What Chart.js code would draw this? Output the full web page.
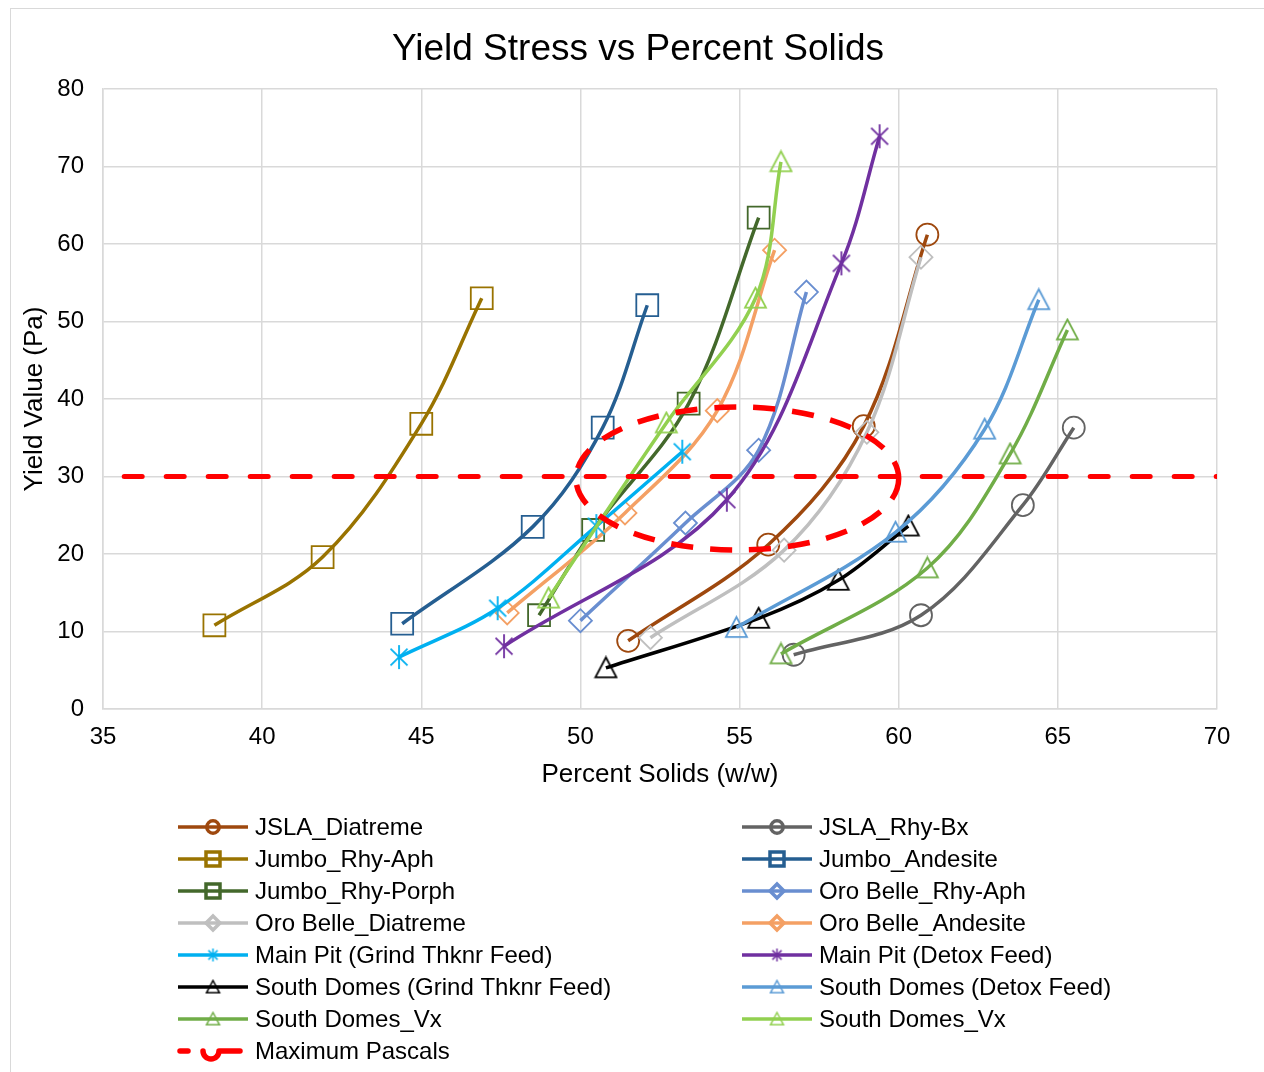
<!DOCTYPE html>
<html>
<head>
<meta charset="utf-8">
<title>Yield Stress vs Percent Solids</title>
<script src="https://cdn.jsdelivr.net/npm/chart.js@4.4.1/dist/chart.umd.min.js"></script>
<style>
  html, body { margin: 0; padding: 0; background: #fff; overflow: hidden; }
  #moldura { position: absolute; left: 10px; top: 8px; width: 1262px; height: 1070px; border: 1px solid #d9d9d9; }
  canvas { display: block; }
</style>
</head>
<body>
<div id="moldura"><canvas id="grafico"></canvas></div>
<script>
// Valores (Percent Solids x Yield Value)
const titulo = 'Yield Stress vs Percent Solids';
const nomes = [
    'JSLA_Diatreme', 'JSLA_Rhy-Bx',
    'Jumbo_Rhy-Aph', 'Jumbo_Andesite',
    'Jumbo_Rhy-Porph', 'Oro Belle_Rhy-Aph',
    'Oro Belle_Diatreme', 'Oro Belle_Andesite',
    'Main Pit (Grind Thknr Feed)', 'Main Pit (Detox Feed)',
    'South Domes (Grind Thknr Feed)', 'South Domes (Detox Feed)',
    'South Domes_Vx', 'South Domes_Vx',
    'Maximum Pascals'
];

const jslaDiatremeX = [51.5, 55.9, 58.9, 60.9];
const jslaDiatremeY = [8.8, 21.2, 36.5, 61.2];
const jslaRhyBxX = [56.7, 60.7, 63.9, 65.5];
const jslaRhyBxY = [7.0, 12.1, 26.3, 36.3];
const jumboRhyAphX = [38.5, 41.9, 45.0, 46.9];
const jumboRhyAphY = [10.8, 19.6, 36.8, 53.0];
const jumboAndesiteX = [44.4, 48.5, 50.7, 52.1];
const jumboAndesiteY = [11.0, 23.5, 36.3, 52.1];
const jumboRhyPorphX = [48.7, 50.4, 53.4, 55.6];
const jumboRhyPorphY = [12.1, 23.1, 39.4, 63.4];
const oroRhyAphX = [50.0, 53.3, 55.6, 57.1];
const oroRhyAphY = [11.4, 24.0, 33.4, 53.8];
const oroDiatremeX = [52.2, 56.4, 59.0, 60.7];
const oroDiatremeY = [9.2, 20.5, 35.7, 58.3];
const oroAndesiteX = [47.7, 51.4, 54.3, 56.1];
const oroAndesiteY = [12.4, 25.3, 38.5, 59.2];
const mainPitGrindX = [44.3, 47.4, 50.5, 53.2];
const mainPitGrindY = [6.7, 13.0, 23.6, 33.2];
const mainPitDetoxX = [47.6, 54.6, 58.2, 59.4];
const mainPitDetoxY = [8.1, 27.0, 57.5, 73.9];
const sdGrindX = [50.8, 55.6, 58.1, 60.3];
const sdGrindY = [5.3, 11.7, 16.6, 23.6];
const sdDetoxX = [54.9, 59.9, 62.7, 64.4];
const sdDetoxY = [10.5, 22.8, 36.1, 52.8];
const sdVxX = [56.3, 60.9, 63.5, 65.3];
const sdVxY = [7.1, 18.2, 32.9, 48.9];
const sdVx2X = [49.0, 52.7, 55.5, 56.3];
const sdVx2Y = [14.3, 36.9, 53.0, 70.6];
const maxPascalsX = [35, 70];
const maxPascalsY = [30, 30];

// elipse tracejada (centro e raios em unidades dos eixos)
const elipseCentro = [54.93, 29.74];
const elipseRaio = [5.07, 9.23];

const xTicks = [35, 40, 45, 50, 55, 60, 65, 70];
const yTicks = [0, 10, 20, 30, 40, 50, 60, 70, 80];

const seriesX = [jslaDiatremeX, jslaRhyBxX, jumboRhyAphX, jumboAndesiteX, jumboRhyPorphX, oroRhyAphX,
    oroDiatremeX, oroAndesiteX, mainPitGrindX, mainPitDetoxX, sdGrindX, sdDetoxX, sdVxX, sdVx2X, maxPascalsX];
const seriesY = [jslaDiatremeY, jslaRhyBxY, jumboRhyAphY, jumboAndesiteY, jumboRhyPorphY, oroRhyAphY,
    oroDiatremeY, oroAndesiteY, mainPitGrindY, mainPitDetoxY, sdGrindY, sdDetoxY, sdVxY, sdVx2Y, maxPascalsY];

// estilos
const cores = ['#9E480E', '#636363', '#997300', '#255E91', '#43682B', '#698ED0', '#BFBFBF', '#F4A064',
    '#00B0F0', '#7030A0', '#000000', '#5B9BD5', '#70AD47', '#92D050', '#FF0000'];
const marcadores = ['circle', 'circle', 'rect', 'rect', 'rect', 'rectRot', 'rectRot', 'rectRot',
    'asterisco', 'asterisco', 'triangulo', 'triangulo', 'triangulo', 'triangulo', 'none'];
const raios = { circle: 11, rect: 15.5, rectRot: 11.5, triangulo: 10.5, asterisco: 12 };
const raiosLegenda = { circle: 6.2, rect: 9.9, rectRot: 7, triangulo: 6.5, asterisco: 6.5 };

function criarAsterisco(cor, meio, espessura) {
    const c = document.createElement('canvas');
    const lado = Math.ceil(meio * 2 + 4);
    c.width = lado; c.height = lado;
    const g = c.getContext('2d');
    const m = lado / 2;
    const d = meio * Math.SQRT1_2;
    g.strokeStyle = cor;
    g.lineWidth = espessura;
    g.beginPath();
    g.moveTo(m, m - meio); g.lineTo(m, m + meio);
    g.moveTo(m - d, m - d); g.lineTo(m + d, m + d);
    g.moveTo(m - d, m + d); g.lineTo(m + d, m - d);
    g.stroke();
    return c;
}

// triângulo centrado pela caixa (como no Excel)
function criarTriangulo(cor, meio, espessura) {
    const c = document.createElement('canvas');
    const lado = Math.ceil(meio * 2 + 4);
    c.width = lado; c.height = lado;
    const g = c.getContext('2d');
    const m = lado / 2;
    g.strokeStyle = cor;
    g.lineWidth = espessura;
    g.lineJoin = 'miter';
    g.beginPath();
    g.moveTo(m, m - meio);
    g.lineTo(m + meio, m + meio * 0.9);
    g.lineTo(m - meio, m + meio * 0.9);
    g.closePath();
    g.stroke();
    return c;
}

const FONTE = '"Liberation Sans", Arial, sans-serif';

const datasets = nomes.map((nome, i) => {
    const tipo = marcadores[i];
    const ds = {
        label: nome,
        data: seriesX[i].map((x, k) => ({ x: x, y: seriesY[i][k] })),
        showLine: true,
        borderColor: cores[i],
        backgroundColor: cores[i],
        borderWidth: 3.5,
        tension: 0.35,
        pointBackgroundColor: 'rgba(0,0,0,0)',
        pointBorderColor: cores[i],
        pointBorderWidth: 1.8,
        order: nomes.length - i
    };
    if (tipo === 'none') {
        ds.pointRadius = 0;
        ds.borderWidth = 5;
        ds.borderDash = [18, 24];
        ds.borderDashOffset = 20.8;
        ds.borderCapStyle = 'round';
        ds.tension = 0;
    } else if (tipo === 'asterisco') {
        ds.pointStyle = criarAsterisco(cores[i], raios.asterisco, 1.8);
        ds.pointRadius = raios.asterisco;
    } else if (tipo === 'triangulo') {
        ds.pointStyle = criarTriangulo(cores[i], raios.triangulo, 1.8);
        ds.pointRadius = raios.triangulo;
    } else {
        ds.pointStyle = tipo;
        ds.pointRadius = raios[tipo];
    }
    return ds;
});

// título centrado na largura da figura
const pluginTitulo = {
    id: 'tituloCentral',
    afterDraw(chart) {
        const ctx = chart.ctx;
        ctx.save();
        ctx.font = '37px ' + FONTE;
        ctx.fillStyle = '#000';
        ctx.textAlign = 'center';
        ctx.textBaseline = 'middle';
        ctx.fillText(titulo, 627, 41);
        ctx.restore();
    }
};

// elipse vermelha tracejada sobre as curvas
const pluginElipse = {
    id: 'elipse',
    afterDatasetsDraw(chart) {
        const ctx = chart.ctx;
        const xs = chart.scales.x, ys = chart.scales.y;
        const cx = xs.getPixelForValue(elipseCentro[0]);
        const cy = ys.getPixelForValue(elipseCentro[1]);
        const rx = xs.getPixelForValue(elipseCentro[0] + elipseRaio[0]) - cx;
        const ry = cy - ys.getPixelForValue(elipseCentro[1] + elipseRaio[1]);
        ctx.save();
        ctx.strokeStyle = '#FF0000';
        ctx.lineWidth = 5.5;
        ctx.setLineDash([22, 17]);
        ctx.beginPath();
        ctx.ellipse(cx, cy, rx, ry, 0, 0, Math.PI * 2);
        ctx.stroke();
        ctx.restore();
    }
};

// legenda em duas colunas, abaixo do eixo X
const pluginLegenda = {
    id: 'legendaColunas',
    afterDraw(chart) {
        const ctx = chart.ctx;
        const topo = chart.chartArea.bottom + 118;
        ctx.save();
        ctx.font = '24px ' + FONTE;
        ctx.textBaseline = 'middle';
        ctx.textAlign = 'left';
        chart.data.datasets.forEach((ds, i) => {
            const col = i % 2, lin = Math.floor(i / 2);
            const x0 = col === 0 ? 167 : 731;
            const y = topo + lin * 32;
            const cor = cores[i];
            const tipo = marcadores[i];
            ctx.strokeStyle = cor;
            ctx.fillStyle = 'rgba(0,0,0,0)';
            ctx.setLineDash([]);
            if (tipo === 'none') {
                ctx.lineWidth = 5.5;
                ctx.lineCap = 'round';
                ctx.lineJoin = 'round';
                ctx.beginPath();
                ctx.moveTo(x0 + 2, y); ctx.lineTo(x0 + 10, y);
                ctx.stroke();
                ctx.beginPath();
                ctx.arc(x0 + 33, y, 8, Math.PI, 0, true);
                ctx.lineTo(x0 + 62, y);
                ctx.stroke();
                ctx.lineCap = 'butt';
            } else {
                ctx.lineWidth = 3.5;
                ctx.beginPath();
                ctx.moveTo(x0, y); ctx.lineTo(x0 + 70, y);
                ctx.stroke();
                if (tipo === 'asterisco' || tipo === 'triangulo') {
                    const img = tipo === 'asterisco'
                        ? criarAsterisco(cor, raiosLegenda.asterisco, 1.5)
                        : criarTriangulo(cor, raiosLegenda.triangulo, 1.5);
                    ctx.drawImage(img, x0 + 35 - img.width / 2, y - img.height / 2);
                } else {
                    Chart.helpers.drawPoint(ctx, {
                        pointStyle: tipo,
                        radius: raiosLegenda[tipo],
                        borderWidth: 1.5,
                        rotation: 0
                    }, x0 + 35, y);
                }
            }
            ctx.fillStyle = '#000';
            ctx.fillText(ds.label, x0 + 77, y + 1);
        });
        ctx.restore();
    }
};

new Chart(document.getElementById('grafico').getContext('2d'), {
    type: 'scatter',
    data: { datasets: datasets },
    options: {
        responsive: true,
        maintainAspectRatio: false,
        animation: false,
        layout: { padding: { left: 0, right: 56, top: 80, bottom: 286 } },
        plugins: {
            legend: { display: false },
            tooltip: { enabled: false },
            title: { display: false }
        },
        scales: {
            x: {
                type: 'linear',
                min: 35, max: 70,
                afterBuildTicks: s => { s.ticks = xTicks.map(v => ({ value: v })); },
                afterFit: s => { s.height = 84; },
                grid: { color: '#D9D9D9', lineWidth: 1.5, drawTicks: false },
                border: { color: '#D9D9D9', width: 1.5 },
                ticks: { color: '#000', padding: 14, font: { family: FONTE, size: 24 } },
                title: {
                    display: true, text: 'Percent Solids (w/w)', color: '#000',
                    font: { family: FONTE, size: 26 }, padding: { top: 0, bottom: 3 }
                }
            },
            y: {
                type: 'linear',
                min: 0, max: 80,
                afterBuildTicks: s => { s.ticks = yTicks.map(v => ({ value: v })); },
                afterFit: s => { s.width = 92; },
                grid: { color: '#D9D9D9', lineWidth: 1.5, drawTicks: false },
                border: { color: '#D9D9D9', width: 1.5 },
                ticks: { color: '#000', padding: 19, font: { family: FONTE, size: 24 } },
                title: {
                    display: true, text: 'Yield Value (Pa)', color: '#000',
                    font: { family: FONTE, size: 26 }, padding: { top: 8, bottom: 0 }
                }
            }
        }
    },
    plugins: [pluginElipse, pluginLegenda, pluginTitulo]
});
</script>
</body>
</html>
